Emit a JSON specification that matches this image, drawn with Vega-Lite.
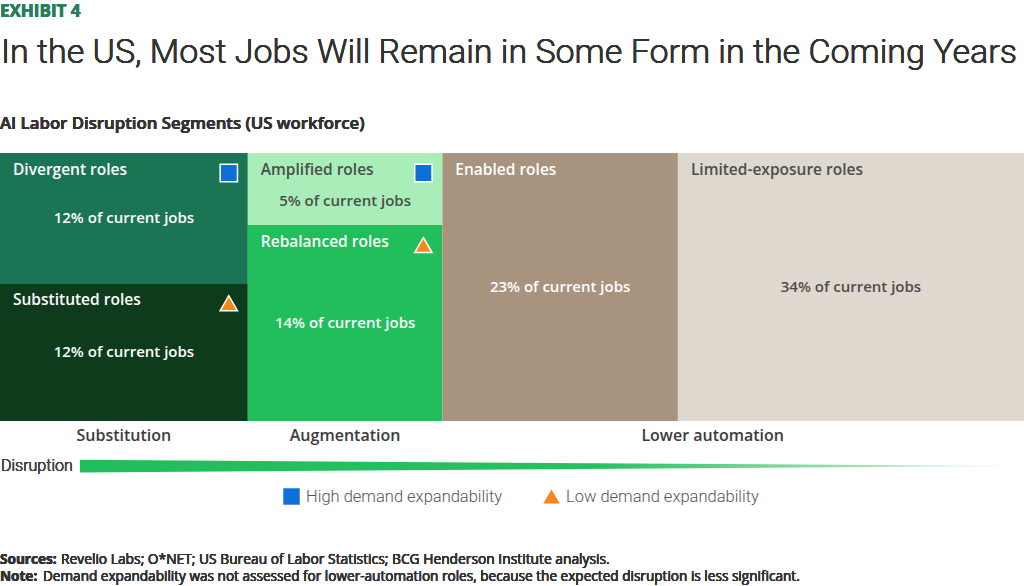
{
  "$schema": "https://vega.github.io/schema/vega-lite/v6.json",
  "width": 1024,
  "height": 586,
  "autosize": {"type": "none"},
  "padding": 0,
  "background": "#ffffff",
  "datasets": {
    "segments": [
      {"role": "Divergent roles", "group": "Substitution", "share": 12, "x0": 0, "x1": 24.2, "y0": 0, "y1": 48.6, "demand": "High demand expandability"},
      {"role": "Substituted roles", "group": "Substitution", "share": 12, "x0": 0, "x1": 24.2, "y0": 48.6, "y1": 100, "demand": "Low demand expandability"},
      {"role": "Amplified roles", "group": "Augmentation", "share": 5, "x0": 24.2, "x1": 43.2, "y0": 0, "y1": 26.9, "demand": "High demand expandability"},
      {"role": "Rebalanced roles", "group": "Augmentation", "share": 14, "x0": 24.2, "x1": 43.2, "y0": 26.9, "y1": 100, "demand": "Low demand expandability"},
      {"role": "Enabled roles", "group": "Lower automation", "share": 23, "x0": 43.2, "x1": 66.2, "y0": 0, "y1": 100},
      {"role": "Limited-exposure roles", "group": "Lower automation", "share": 34, "x0": 66.2, "x1": 100, "y0": 0, "y1": 100}
    ],
    "phases": [
      {"phase": "Substitution", "x": 12.1},
      {"phase": "Augmentation", "x": 33.7},
      {"phase": "Lower automation", "x": 69.6}
    ],
    "wedge": [
      {"x": 7.8, "top": 114.5, "bottom": 119.2},
      {"x": 99.6, "top": 116.8, "bottom": 116.8}
    ]
  },
  "data": {"name": "segments"},
  "transform": [
    {"calculate": "(datum.x0 + datum.x1) / 2", "as": "xm"},
    {"calculate": "(datum.y0 + datum.y1) / 2", "as": "ym"},
    {"calculate": "datum.share + '% of current jobs'", "as": "label"}
  ],
  "layer": [
    {
      "mark": {"type": "rect"},
      "encoding": {
        "x": {"field": "x0", "type": "quantitative", "scale": {"domain": [0, 100], "nice": false, "zero": false}, "axis": null},
        "x2": {"field": "x1"},
        "y": {"field": "y0", "type": "quantitative", "scale": {"domain": [-57.09, 161.57], "nice": false, "zero": false, "reverse": true}, "axis": null},
        "y2": {"field": "y1"},
        "fill": {
          "field": "role",
          "type": "nominal",
          "legend": null,
          "scale": {
            "domain": ["Divergent roles", "Substituted roles", "Amplified roles", "Rebalanced roles", "Enabled roles", "Limited-exposure roles"],
            "range": ["#1b7555", "#0f3b1d", "#a9edb9", "#21be5b", "#a8937f", "#dfd8ce"]
          }
        }
      }
    },
    {
      "mark": {"type": "text", "align": "left", "baseline": "middle", "dx": 13, "dy": 17, "font": "Open Sans", "fontSize": 15.5, "fontWeight": 600},
      "encoding": {
        "x": {"field": "x0", "type": "quantitative"},
        "y": {"field": "y0", "type": "quantitative"},
        "text": {"field": "role"},
        "color": {
          "condition": {"test": "datum.role === 'Amplified roles' || datum.role === 'Limited-exposure roles'", "value": "#4a4f4b"},
          "value": "#ffffff"
        }
      }
    },
    {
      "transform": [{"filter": "datum.role !== 'Amplified roles'"}],
      "mark": {"type": "text", "align": "center", "baseline": "middle", "font": "Open Sans", "fontSize": 15, "fontWeight": 600},
      "encoding": {
        "x": {"field": "xm", "type": "quantitative"},
        "y": {"field": "ym", "type": "quantitative"},
        "text": {"field": "label"},
        "color": {
          "condition": {"test": "datum.role === 'Limited-exposure roles'", "value": "#4d4d4d"},
          "value": "#ffffff"
        }
      }
    },
    {
      "transform": [{"filter": "datum.role === 'Amplified roles'"}],
      "mark": {"type": "text", "align": "center", "baseline": "middle", "dy": 12, "font": "Open Sans", "fontSize": 15, "fontWeight": 600, "color": "#4a4f4b"},
      "encoding": {
        "x": {"field": "xm", "type": "quantitative"},
        "y": {"field": "ym", "type": "quantitative"},
        "text": {"field": "label"}
      }
    },
    {
      "transform": [{"filter": "isValid(datum.demand)"}],
      "mark": {"type": "point", "filled": true, "opacity": 1, "size": 300, "stroke": "#ffffff", "strokeWidth": 1.5},
      "encoding": {
        "x": {"field": "x1", "type": "quantitative"},
        "y": {"field": "y0", "type": "quantitative"},
        "xOffset": {"value": -19},
        "yOffset": {"value": 20},
        "shape": {
          "field": "demand",
          "type": "nominal",
          "scale": {"domain": ["High demand expandability", "Low demand expandability"], "range": ["square", "triangle-up"]},
          "legend": {"title": null}
        },
        "color": {
          "field": "demand",
          "type": "nominal",
          "scale": {"domain": ["High demand expandability", "Low demand expandability"], "range": ["#0f6fd8", "#f7861c"]},
          "legend": {"title": null}
        }
      }
    },
    {
      "data": {"name": "phases"},
      "mark": {"type": "text", "align": "center", "baseline": "middle", "font": "Open Sans", "fontSize": 16, "fontWeight": 600, "color": "#3c3c3c"},
      "encoding": {
        "x": {"field": "x", "type": "quantitative"},
        "y": {"datum": 105.6, "type": "quantitative"},
        "text": {"field": "phase"}
      }
    },
    {
      "data": {"name": "wedge"},
      "mark": {
        "type": "area",
        "color": {
          "gradient": "linear", "x1": 0, "x2": 1, "y1": 0, "y2": 0,
          "stops": [
            {"offset": 0, "color": "#21be5b"},
            {"offset": 0.55, "color": "#27c060"},
            {"offset": 1, "color": "#e4f7ea"}
          ]
        }
      },
      "encoding": {
        "x": {"field": "x", "type": "quantitative"},
        "y": {"field": "top", "type": "quantitative"},
        "y2": {"field": "bottom"}
      }
    },
    {
      "mark": {"type": "text", "align": "left", "baseline": "middle", "dx": 1, "font": "Roboto", "fontSize": 16, "fontWeight": 300, "color": "#444444"},
      "encoding": {
        "x": {"datum": 0, "type": "quantitative"},
        "y": {"datum": 116.8, "type": "quantitative"},
        "text": {"value": "Disruption"}
      }
    },
    {
      "mark": {"type": "text", "align": "left", "baseline": "alphabetic", "font": "Open Sans", "fontSize": 17, "fontWeight": "bold", "color": "#2a7d5c"},
      "encoding": {
        "x": {"datum": 0, "type": "quantitative"},
        "y": {"datum": -50.6, "type": "quantitative"},
        "text": {"value": "EXHIBIT 4"}
      }
    },
    {
      "mark": {"type": "text", "align": "left", "baseline": "alphabetic", "dx": 1, "font": "Roboto", "fontSize": 34, "fontWeight": 300, "color": "#333333"},
      "encoding": {
        "x": {"datum": 0, "type": "quantitative"},
        "y": {"datum": -33.7, "type": "quantitative"},
        "text": {"value": "In the US, Most Jobs Will Remain in Some Form in the Coming Years"}
      }
    },
    {
      "mark": {"type": "text", "align": "left", "baseline": "alphabetic", "font": "Open Sans", "fontSize": 16.8, "fontWeight": 600, "color": "#333333"},
      "encoding": {
        "x": {"datum": 0, "type": "quantitative"},
        "y": {"datum": -8.96, "type": "quantitative"},
        "text": {"value": "AI Labor Disruption Segments (US workforce)"}
      }
    },
    {
      "mark": {"type": "text", "align": "left", "baseline": "alphabetic", "font": "Open Sans", "fontSize": 13.6, "fontWeight": "bold", "color": "#333333"},
      "encoding": {
        "x": {"datum": 0, "type": "quantitative"},
        "y": {"datum": 153.54, "type": "quantitative"},
        "text": {"value": "Sources:"}
      }
    },
    {
      "mark": {"type": "text", "align": "left", "baseline": "alphabetic", "dx": 61, "font": "Open Sans", "fontSize": 13.8, "color": "#333333"},
      "encoding": {
        "x": {"datum": 0, "type": "quantitative"},
        "y": {"datum": 153.54, "type": "quantitative"},
        "text": {"value": "Revelio Labs; O*NET; US Bureau of Labor Statistics; BCG Henderson Institute analysis."}
      }
    },
    {
      "mark": {"type": "text", "align": "left", "baseline": "alphabetic", "font": "Open Sans", "fontSize": 13.6, "fontWeight": "bold", "color": "#333333"},
      "encoding": {
        "x": {"datum": 0, "type": "quantitative"},
        "y": {"datum": 159.89, "type": "quantitative"},
        "text": {"value": "Note:"}
      }
    },
    {
      "mark": {"type": "text", "align": "left", "baseline": "alphabetic", "dx": 43, "font": "Open Sans", "fontSize": 13.6, "color": "#333333"},
      "encoding": {
        "x": {"datum": 0, "type": "quantitative"},
        "y": {"datum": 159.89, "type": "quantitative"},
        "text": {"value": "Demand expandability was not assessed for lower-automation roles, because the expected disruption is less significant."}
      }
    }
  ],
  "config": {
    "view": {"stroke": null},
    "font": "Roboto",
    "legend": {
      "orient": "none",
      "legendX": 283,
      "legendY": 488,
      "direction": "horizontal",
      "padding": 0,
      "offset": 0,
      "columnPadding": 40,
      "symbolSize": 270,
      "symbolStrokeWidth": 0,
      "symbolOpacity": 1,
      "labelFont": "Roboto",
      "labelFontSize": 16.5,
      "labelFontWeight": 300,
      "labelColor": "#555555",
      "labelOffset": 6,
      "labelLimit": 300
    }
  }
}
